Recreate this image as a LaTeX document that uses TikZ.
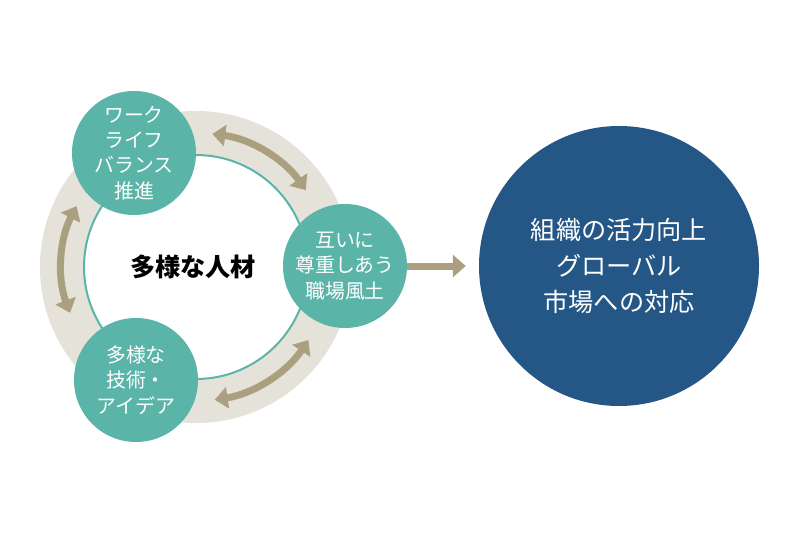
\documentclass[tikz,border=0pt]{standalone}
\usepackage{fontspec}
\setmainfont{Noto Sans CJK JP}
\usepackage{xcolor}
\usetikzlibrary{arrows.meta,calc}

\definecolor{ringteal}{HTML}{5BB4A8}
\definecolor{ringbeige}{HTML}{E5E2DA}
\definecolor{arrowkhaki}{HTML}{AAA080}
\definecolor{goalnavy}{HTML}{245785}

\tikzset{
  bubble/.style={circle, fill=ringteal, text=white, inner sep=0pt,
    minimum size=37.2mm, align=center,
    font=\fontsize{17}{21.5}\selectfont},
  goalbubble/.style={circle, fill=goalnavy, text=white, inner sep=0pt,
    minimum size=84mm, align=center,
    font=\fontsize{21.5}{30.5}\selectfont},
  both/.style={draw=arrowkhaki, line width=2.1mm,
    {Triangle[length=3.9mm, width=6.3mm]}-{Triangle[length=3.9mm, width=6.3mm]}},
  flow/.style={draw=arrowkhaki, line width=2.1mm,
    -{Triangle[length=3.9mm, width=6.6mm]}, shorten >=3.9mm}
}

\begin{document}
\begin{tikzpicture}[x=0.3mm, y=0.3mm]
  \useasboundingbox (0,0) rectangle (800,533);
  \fill[white] (0,0) rectangle (800,533);

  % Ring around the centre.
  \coordinate (ctr) at (196,266);
  \fill[ringbeige] (ctr) circle[radius=156];
  \draw[ringteal, line width=0.6mm, fill=white] (ctr) circle[radius=112];
  \node[font=\fontsize{21.5}{24}\selectfont\bfseries] (core) at (193,266) {多様な人材};

  % Two-way arrows on the ring.
  \foreach \a/\b [count=\i] in {83/35,200/153,-33/-82}{
    \coordinate (p\i) at ($(ctr)+(\a:134)$);
    \coordinate (q\i) at ($(ctr)+(\b:134)$);
    \draw[both] (p\i) to[bend left=24, looseness=0.9] (q\i);
  }

  % The three circles.
  \node[bubble] (life) at (134,380) {ワーク\\ライフ\\バランス\\推進};
  \node[bubble] (respect) at (345,267) {互いに\\尊重しあう\\職場風土};
  \node[bubble] (ideas) at (136,153) {多様な\\技術・\\アイデア};

  % Result.
  \node[goalbubble] (goal) at (619,267) {組織の活力向上\\グローバル\\市場への対応};
  \draw[flow] (respect) -- (goal);
\end{tikzpicture}
\end{document}
